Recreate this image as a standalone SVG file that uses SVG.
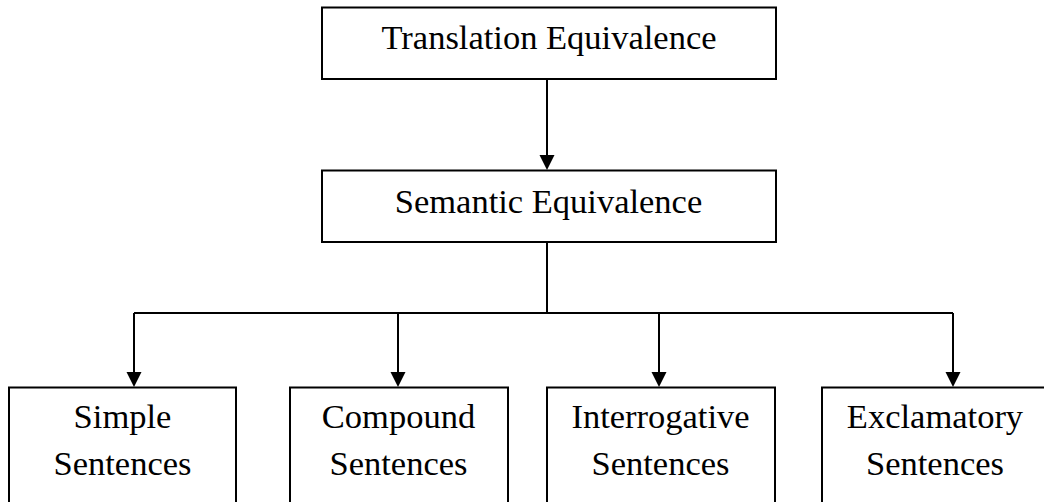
<svg xmlns="http://www.w3.org/2000/svg" width="1044" height="502" viewBox="0 0 1044 502">
  <style>
    .box { fill: #ffffff; stroke: #000000; stroke-width: 2; }
    .lbl { font-family: "Liberation Serif", "Times New Roman", serif; font-size: 34.5px; fill: #000000; text-anchor: middle; }
    .wire { fill: none; stroke: #000000; stroke-width: 2; }
  </style>
  <defs>
    <marker id="arrow" markerUnits="userSpaceOnUse" markerWidth="16" markerHeight="16" viewBox="0 0 16 16" refX="0.5" refY="8" orient="auto">
      <path d="M0.5,0.5 L15.5,8 L0.5,15.5 Z" fill="#000000"/>
    </marker>
  </defs>
  <rect x="0" y="0" width="1044" height="502" fill="#ffffff"/>

  <g id="connectors">
    <path class="wire" d="M547,79 L547,155" marker-end="url(#arrow)"/>
    <path class="wire" d="M547,242 L547,313"/>
    <path class="wire" d="M134,313 L953,313"/>
    <path class="wire" d="M134,313 L134,372" marker-end="url(#arrow)"/>
    <path class="wire" d="M398,313 L398,372" marker-end="url(#arrow)"/>
    <path class="wire" d="M659,313 L659,372" marker-end="url(#arrow)"/>
    <path class="wire" d="M953,313 L953,372" marker-end="url(#arrow)"/>
  </g>

  <g id="node-translation">
    <rect class="box" x="322" y="7.5" width="454" height="71.5"/>
    <text class="lbl" x="549" y="49">Translation Equivalence</text>
  </g>

  <g id="node-semantic">
    <rect class="box" x="322" y="170.5" width="454" height="71.5"/>
    <text class="lbl" x="548.5" y="213">Semantic Equivalence</text>
  </g>

  <g id="node-simple">
    <rect class="box" x="9" y="387.5" width="227" height="130"/>
    <text class="lbl" x="122.5" y="428">Simple</text>
    <text class="lbl" x="122.5" y="475">Sentences</text>
  </g>

  <g id="node-compound">
    <rect class="box" x="290" y="387.5" width="218" height="130"/>
    <text class="lbl" x="398.5" y="428">Compound</text>
    <text class="lbl" x="398.5" y="475">Sentences</text>
  </g>

  <g id="node-interrogative">
    <rect class="box" x="547" y="387.5" width="228" height="130"/>
    <text class="lbl" x="660.5" y="428">Interrogative</text>
    <text class="lbl" x="660.5" y="475">Sentences</text>
  </g>

  <g id="node-exclamatory">
    <rect class="box" x="822" y="387.5" width="240" height="130"/>
    <text class="lbl" x="935" y="428">Exclamatory</text>
    <text class="lbl" x="935" y="475">Sentences</text>
  </g>
</svg>
